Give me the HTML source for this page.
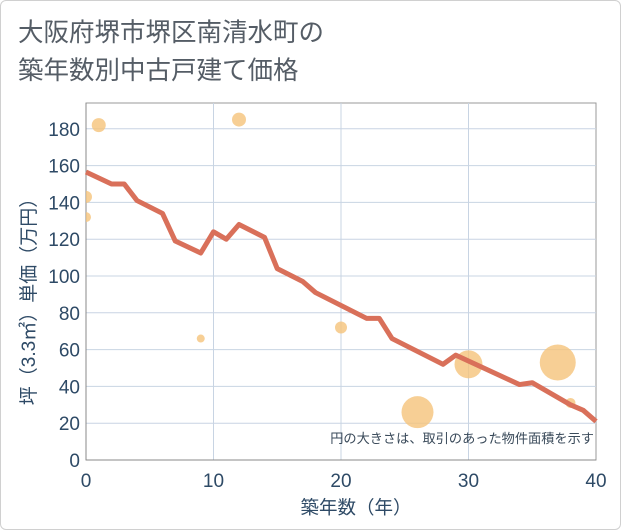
<!DOCTYPE html>
<html><head><meta charset="utf-8"><style>
body{margin:0;background:#fff;}
#c{position:relative;width:619px;height:528px;border:1px solid #d0d0d0;border-radius:6px;background:#fff;font-family:"Liberation Sans","Noto Sans CJK JP",sans-serif;}
</style></head><body>
<div id="c">
<svg id="s" width="621" height="530" style="position:absolute;left:-1px;top:-1px"></svg>
</div>
<script>
const xTicks=[0,10,20,30,40];
const yTicks=[0,20,40,60,80,100,120,140,160,180];
const lineX=[0,2,3,4,6,7,9,10,11,12,14,15,17,18,22,23,24,28,29,34,35,38,39,40];
const lineY=[156.5,150,150,141,134,119,112.5,124,120,128,121,104,97,91,77,77,66,52,57,41,42,30,27,21];
const bubX=[1,12,0,0,9,20,26,30,37,38];
const bubY=[182,185,143,132,66,72,26,52,53,31];
const bubR=[7,7,6,5,4,6,16,14,18,5];
const NS="http://www.w3.org/2000/svg";
const s=document.getElementById('s');
const L=86,R=596,T=103,B=460;
const X=v=>L+(v-0)/40*(R-L);
const Y=v=>B-v*1.84;
function el(t,a,txt){const e=document.createElementNS(NS,t);for(const k in a)e.setAttribute(k,a[k]);if(txt!==undefined)e.textContent=txt;s.appendChild(e);return e;}
let e;
e=el('text',{x:18,y:41,'font-size':25.5,fill:'#555d66'},'大阪府堺市堺区南清水町の');

e=el('text',{x:18,y:79,'font-size':25.5,fill:'#555d66'},'築年数別中古戸建て価格');

e=el('rect',{x:L,y:T,width:R-L,height:B-T,fill:'#fff',stroke:'#999',"stroke-width":1});

yTicks.forEach(v=>{
 if(v>0){e=el('line',{x1:L,x2:R,y1:Y(v),y2:Y(v),stroke:'#c8d4e3','stroke-width':1});
 }
 e=el('text',{x:L-6,y:Y(v)+7,'font-size':19,fill:'#2e4a66','text-anchor':'end'},String(v));
 
});
xTicks.forEach(v=>{
 if(v>0&&v<40){e=el('line',{x1:X(v),x2:X(v),y1:T,y2:B,stroke:'#c8d4e3','stroke-width':1});
 }
 e=el('text',{x:X(v),y:B+27,'font-size':19,fill:'#2e4a66','text-anchor':'middle'},String(v));
 
});
e=el('line',{x1:L,x2:R,y1:B,y2:B,stroke:'#888'});
e=el('line',{x1:L,x2:L,y1:T,y2:B,stroke:'#888'});
const cp=el('clipPath',{id:'cp'});const cr=document.createElementNS(NS,'rect');
cr.setAttribute('x',L);cr.setAttribute('y',T);cr.setAttribute('width',R-L);cr.setAttribute('height',B-T);cp.appendChild(cr);
bubX.forEach((v,i)=>{e=el('circle',{cx:X(v),cy:Y(bubY[i]),r:bubR[i],fill:'#f5c37a','fill-opacity':0.8,'clip-path':'url(#cp)'});
 });
e=el('polyline',{points:lineX.map((v,i)=>X(v)+','+Y(lineY[i])).join(' '),fill:'none',stroke:'#d9705a','stroke-width':5,'stroke-linejoin':'round'});

e=el('text',{x:594,y:443,'font-size':13.2,fill:'#3a4a5a','text-anchor':'end'},'円の大きさは、取引のあった物件面積を示す');

e=el('text',{x:356,y:514,'font-size':18.5,fill:'#2e4a66','text-anchor':'middle'},'築年数（年）');

e=el('text',{x:0,y:0,'font-size':19,fill:'#2e4a66','text-anchor':'middle',transform:'translate(35,297) rotate(-90)'},'坪（3.3㎡）単価（万円）');

</script>
</body></html>
